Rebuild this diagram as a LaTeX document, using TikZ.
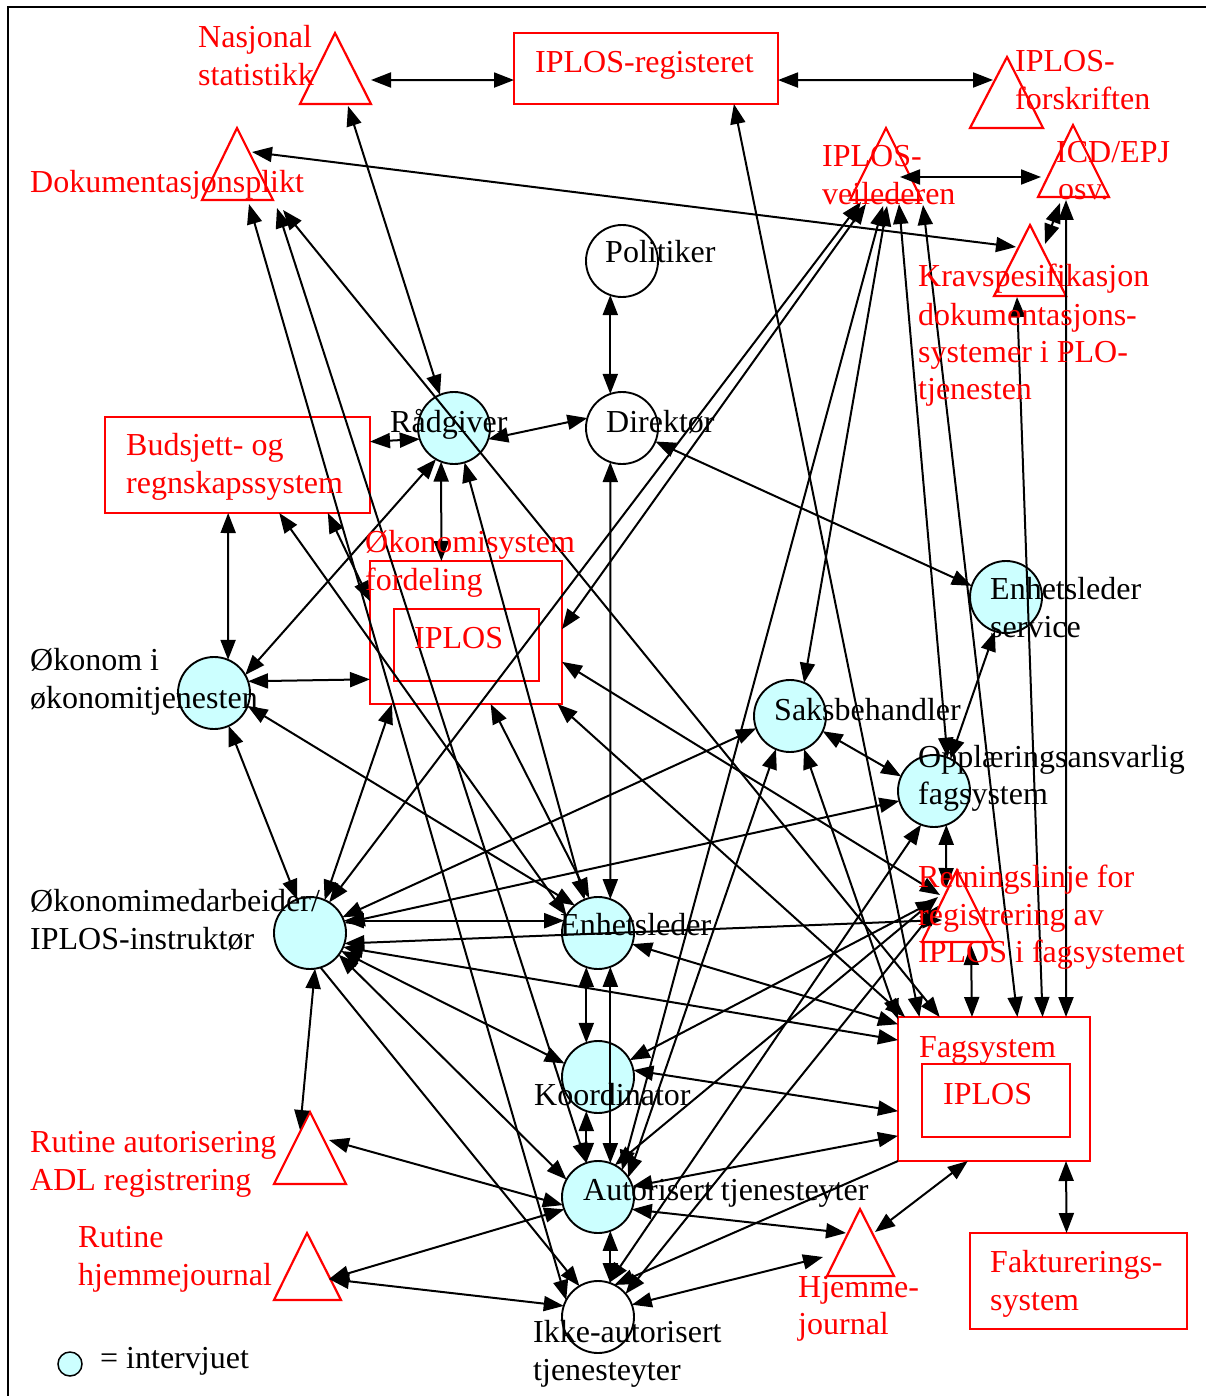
\documentclass[tikz,border=0pt]{standalone}
\usepackage{fontspec}
\setmainfont{Liberation Serif}
\usetikzlibrary{arrows.meta,calc}
\definecolor{cy}{HTML}{CCFFFF}
\definecolor{rd}{HTML}{FF0000}
\begin{document}
\begin{tikzpicture}[x=1pt,y=-1pt,
  circ/.style={circle,draw=black,line width=1.9pt,minimum size=72pt,inner sep=0pt,outer sep=0pt},
  rbox/.style={draw=rd,line width=2.2pt,inner sep=0pt,outer sep=0pt},
  rtri/.style={draw=rd,line width=2.2pt,line join=miter},
  lbl/.style={anchor=base west,inner sep=0pt,font=\fontsize{32}{38}\selectfont},
  rlbl/.style={lbl,text=rd},
  con/.style={line width=2pt,{Triangle[length=20pt,width=15pt]}-{Triangle[length=20pt,width=15pt]}},
  con1/.style={line width=2pt,-{Triangle[length=20pt,width=15pt]}},
]
\useasboundingbox (0,0) rectangle (1206,1396);
\draw[line width=1.5pt] (8,1396) -- (8,7) -- (1206,7);

% boxes
\node[rbox,minimum width=264pt,minimum height=71pt] (reg) at (646,68.5) {};
\node[rbox,minimum width=265pt,minimum height=96pt] (bud) at (237.5,465) {};
\node[rbox,minimum width=192pt,minimum height=143pt] (oks) at (466,632.5) {};
\node[rbox,minimum width=145pt,minimum height=72pt] (oksin) at (466.5,645) {};
\node[rbox,minimum width=192pt,minimum height=144pt] (fag) at (994,1089) {};
\node[rbox,minimum width=148pt,minimum height=73pt] (fagin) at (996,1100.5) {};
\node[rbox,minimum width=217pt,minimum height=96pt] (fakt) at (1078.5,1281) {};

% circles
\node[circ] (pol) at (622,261) {};
\node[circ] (dir) at (622,428) {};
\node[circ,fill=cy] (rad) at (454,428) {};
\node[circ,fill=cy] (okonom) at (214,693) {};
\node[circ,fill=cy] (okmed) at (310,933) {};
\node[circ,fill=cy] (enh) at (598,933) {};
\node[circ,fill=cy] (koord) at (598,1077) {};
\node[circ,fill=cy] (aut) at (598,1197) {};
\node[circ] (ikke) at (598,1317) {};
\node[circ,fill=cy] (saks) at (790,716) {};
\node[circ,fill=cy] (ens) at (1006,597) {};
\node[circ,fill=cy] (opp) at (934,791) {};
\node[circ,fill=cy,minimum size=24pt,line width=1.5pt] (leg) at (70,1364) {};

% triangles
\draw[rtri] (300,104) -- (335,33) -- (371,104) -- cycle;
\draw[rtri] (970,128) -- (1007,57) -- (1043,128) -- cycle;
\draw[rtri] (202,200) -- (237,128) -- (273,200) -- cycle;
\draw[rtri] (850,200) -- (886,128) -- (922,200) -- cycle;
\draw[rtri] (1038,197) -- (1073,125) -- (1109,197) -- cycle;
\draw[rtri] (994,296) -- (1030,225) -- (1066,296) -- cycle;
\draw[rtri] (922,942) -- (957,870) -- (993,942) -- cycle;
\draw[rtri] (827,1276) -- (860,1209) -- (894,1276) -- cycle;
\draw[rtri] (274,1184) -- (310,1112) -- (346,1184) -- cycle;
\draw[rtri] (274,1300) -- (307,1233) -- (341,1300) -- cycle;

% connector end points at triangles
\coordinate (nas-r) at (371,80);
\coordinate (nas-b) at (348,106);
\coordinate (forsk-l) at (993,80);
\coordinate (dok-r) at (252,152);
\coordinate (dok-b1) at (249,204);
\coordinate (dok-b2) at (277,208);
\coordinate (dok-b3) at (283,210);
\coordinate (krav-l) at (1016,247);
\coordinate (krav-t) at (1045,244);
\coordinate (krav-b) at (1017,297);
\coordinate (veil-a) at (866,204);
\coordinate (veil-b) at (861,202);
\coordinate (veil-c) at (887,206);
\coordinate (veil-d) at (883,206);
\coordinate (veil-e) at (899,204);
\coordinate (veil-f) at (923,205);
\coordinate (veil-r) at (900,177);
\coordinate (icd-l) at (1041,177);
\coordinate (icd-b1) at (1060,203);
\coordinate (icd-b2) at (1066,200);
\coordinate (retn-t) at (946,888);
\coordinate (retn-l1) at (940,895);
\coordinate (retn-l2) at (942,920);
\coordinate (retn-l3) at (936,900);
\coordinate (retn-l4) at (938,897);
\coordinate (retn-l5) at (938,906);
\coordinate (retn-b) at (971,945);
\coordinate (rut1-t) at (300,1130);
\coordinate (rut1-r) at (329,1140);
\coordinate (rut2-r) at (329,1279);
\coordinate (hj-l1) at (846,1233);
\coordinate (hj-l2) at (823,1257);
\coordinate (hj-r) at (875,1232);

% connectors
\draw[con] (nas-r) -- (reg.185);
\draw[con] (reg.-5) -- (forsk-l);
\draw[con] (nas-b) -- (rad.113);
\draw[con] (dok-r) -- (krav-l);
\draw[con] (dok-b1) -- (ikke.152);
\draw[con] (dok-b2) -- (aut.109);
\draw[con] (dok-b3) -- (fag.127);
\draw[con] (reg.-22.7) -- (fag.136.5);
\draw[con] (pol.-109) -- (dir.109);
\draw[con] (rad.-18) -- (dir.164);
\draw[con] (bud.10.7) -- (rad.198.4);
\draw[con] (rad.-111) -- (oks.109.3);
\draw[con] (rad.-120) -- (okonom.30);
\draw[con] (rad.-73) -- (enh.112);
\draw[con] (bud.-101.2) -- (okonom.67);
\draw[con] (bud.-49.2) -- (enh.151);
\draw[con] (bud.-28.2) -- (oks.162.9);
\draw[con] (okonom.19.5) -- (oks.206.8);
\draw[con] (okonom.-21) -- (enh.130);
\draw[con] (okonom.-66) -- (okmed.111.8);
\draw[con] (oks.224) -- (okmed.66);
\draw[con] (oks.-71.4) -- (enh.104);
\draw[con] (veil-b) -- (okmed.58);
\draw[con] (veil-a) -- (oks.2.7);
\draw[con] (veil-c) -- (saks.67.4);
\draw[con] (veil-d) -- (aut.48);
\draw[con] (veil-e) -- (opp.68);
\draw[con] (veil-f) -- (fag.72.3);
\draw[con] (veil-r) -- (icd-l);
\draw[con] (icd-b1) -- (krav-t);
\draw[con] (icd-b2) -- (fag.45);
\draw[con] (krav-b) -- (fag.56.3);
\draw[con] (dir.-109) -- (enh.70.5);
\draw[con] (dir.-22) -- (ens.162.5);
\draw[con] (ens.-108) -- (opp.63);
\draw[con] (saks.-25.3) -- (opp.156.6);
\draw[con] (saks.200.2) -- (okmed.26);
\draw[con] (saks.-113.5) -- (aut.33);
\draw[con] (saks.-67.5) -- (fag.144);
\draw[con] (opp.196.6) -- (okmed.16);
\draw[con] (opp.-70.5) -- (retn-t);
\draw[con] (opp.-111.8) -- (ikke.72);
\draw[con] (oks.-17.1) -- (retn-l1);
\draw[con] (oks.-38) -- (fag.141.5);
\draw[con] (enh.160) -- (okmed.20);
\draw[con] (okmed.-17) -- (retn-l2);
\draw[con] (enh.-109.5) -- (koord.109.5);
\draw[con] (enh.-70.5) -- (aut.70.5);
\draw[con] (enh.-18.4) -- (fag.146);
\draw[con] (okmed.-23) -- (fag.153);
\draw[con] (okmed.-30) -- (koord.158.7);
\draw[con] (okmed.-37) -- (aut.151.6);
\draw[con1] (okmed.-73.4) -- (ikke.121);
\draw[con] (okmed.-82) -- (rut1-t);
\draw[con] (rut1-r) -- (aut.193.7);
\draw[con] (rut2-r) -- (aut.200);
\draw[con] (rut2-r) -- (ikke.162);
\draw[con] (koord.-109.5) -- (aut.109.5);
\draw[con] (koord.28) -- (retn-l3);
\draw[con] (koord.11) -- (fag.193.5);
\draw[con] (aut.17) -- (fag.206.6);
\draw[con] (aut.-20) -- (hj-l1);
\draw[con] (aut.62) -- (retn-l4);
\draw[con] (ikke.40) -- (retn-l5);
\draw[con1] (fag.south west) -- (ikke.63.4);
\draw[con] (hj-l2) -- (ikke.20);
\draw[con] (hj-r) -- (fag.250.1);
\draw[con] (fag.-45) -- (fakt.104.6);
\draw[con] (retn-b) -- (fag.107.7);
\draw[con] (aut.-70.5) -- (ikke.70.5);

% red labels
\node[rlbl] (t01) at (198,48) {Nasjonal};
\node[rlbl] (t02) at (198,86) {statistikk};
\node[rlbl] (t03) at (535,73) {IPLOS-registeret};
\node[rlbl] (t04) at (1015,72) {IPLOS-};
\node[rlbl] (t05) at (1015,110) {forskriften};
\node[rlbl] (t06) at (30,193) {Dokumentasjonsplikt};
\node[rlbl] (t07) at (822,167) {IPLOS-};
\node[rlbl] (t08) at (822,205) {veilederen};
\node[rlbl] (t09) at (1056,163) {ICD/EPJ};
\node[rlbl] (t10) at (1058,200) {osv.};
\node[rlbl] (t11) at (918,287) {Kravspesifikasjon};
\node[rlbl] (t12) at (918,325) {dokumentasjons-};
\node[rlbl] (t13) at (918,362) {systemer i PLO-};
\node[rlbl] (t14) at (918,399) {tjenesten};
\node[rlbl] (t15) at (126,455) {Budsjett- og};
\node[rlbl] (t16) at (126,493) {regnskapssystem};
\node[rlbl] (t17) at (365,552) {Økonomisystem};
\node[rlbl] (t18) at (365,590) {fordeling};
\node[rlbl] (t19) at (414,648) {IPLOS};
\node[rlbl] (t20) at (918,887) {Retningslinje for};
\node[rlbl] (t21) at (918,925) {registrering av};
\node[rlbl] (t22) at (918,962) {IPLOS i fagsystemet};
\node[rlbl] (t23) at (919,1057) {Fagsystem};
\node[rlbl] (t24) at (943,1104) {IPLOS};
\node[rlbl] (t25) at (990,1272) {Fakturerings-};
\node[rlbl] (t26) at (990,1310) {system};
\node[rlbl] (t27) at (798,1297) {Hjemme-};
\node[rlbl] (t28) at (798,1334) {journal};
\node[rlbl] (t29) at (30,1152) {Rutine autorisering};
\node[rlbl] (t30) at (30,1190) {ADL registrering};
\node[rlbl] (t31) at (78,1247) {Rutine};
\node[rlbl] (t32) at (78,1285) {hjemmejournal};
% black labels
\node[lbl] (b01) at (605,263) {Politiker};
\node[lbl] (b02) at (606,432) {Direktør};
\node[lbl] (b03) at (390,432) {Rådgiver};
\node[lbl] (b04) at (30,670) {Økonom i};
\node[lbl] (b05) at (30,708) {økonomitjenesten};
\node[lbl] (b06) at (30,911) {Økonomimedarbeider/};
\node[lbl] (b07) at (30,949) {IPLOS-instruktør};
\node[lbl] (b08) at (560,935) {Enhetsleder};
\node[lbl] (b09) at (534,1105) {Koordinator};
\node[lbl] (b10) at (583,1200) {Autorisert tjenesteyter};
\node[lbl] (b11) at (533,1342) {Ikke-autorisert};
\node[lbl] (b12) at (533,1380) {tjenesteyter};
\node[lbl] (b13) at (774,720) {Saksbehandler};
\node[lbl] (b14) at (990,599) {Enhetsleder};
\node[lbl] (b15) at (990,637) {service};
\node[lbl] (b16) at (918,767) {Opplæringsansvarlig};
\node[lbl] (b17) at (918,804) {fagsystem};
\node[lbl] (b18) at (100,1368) {= intervjuet};
\end{tikzpicture}
\end{document}
